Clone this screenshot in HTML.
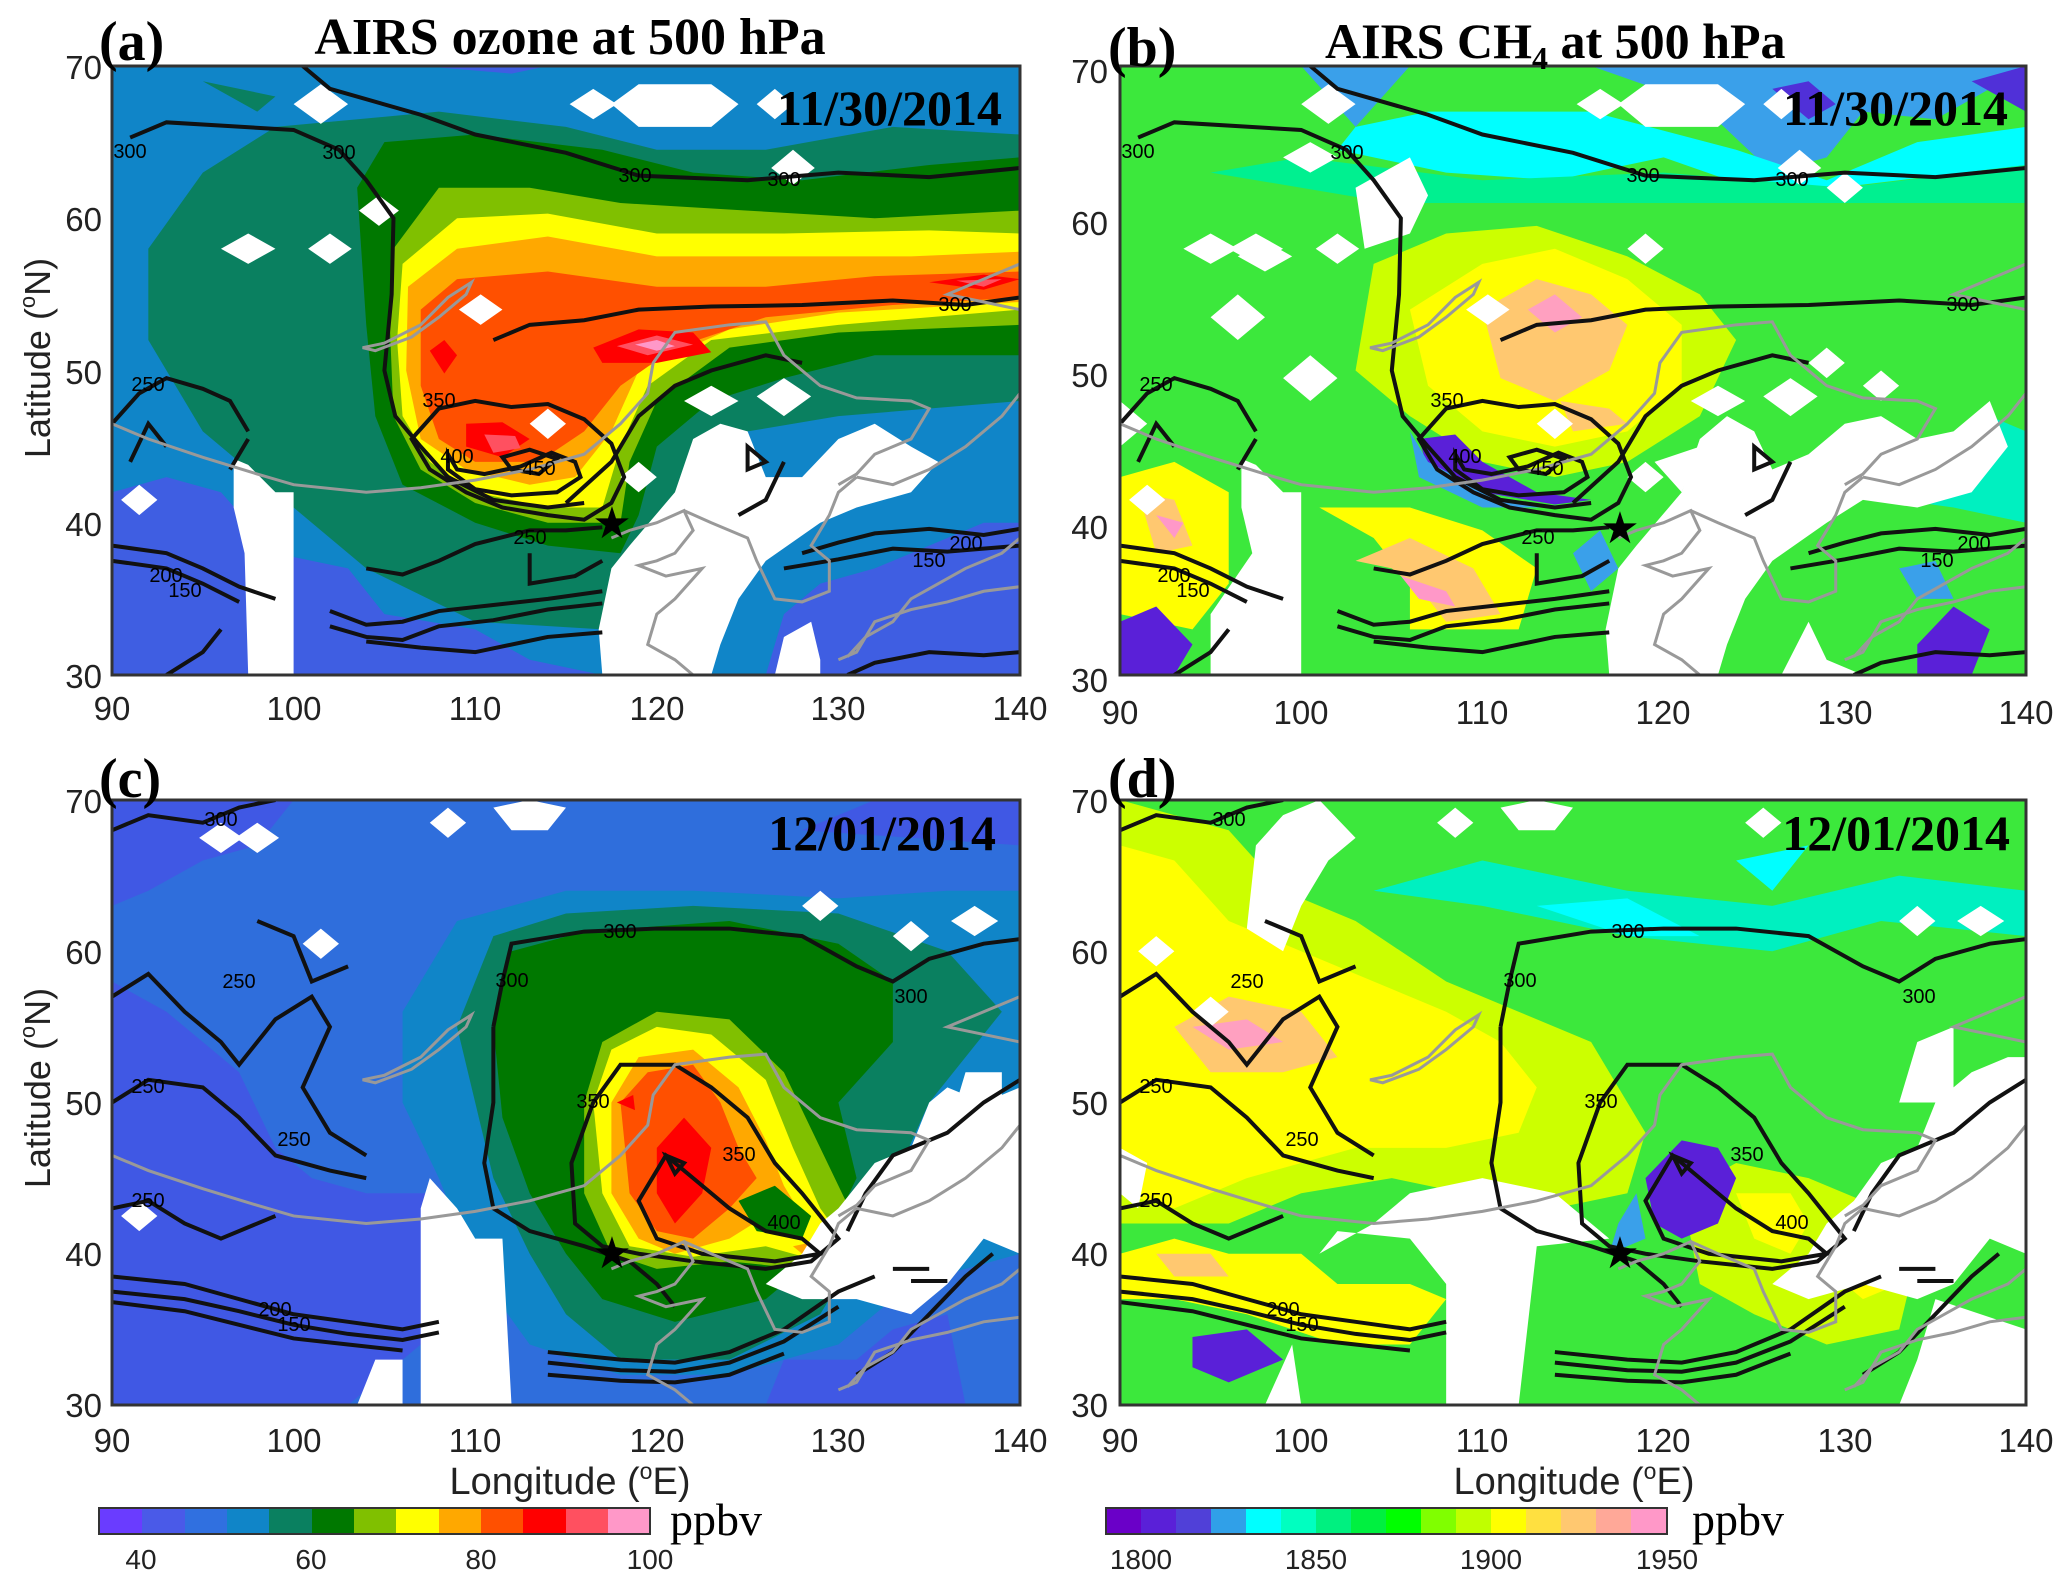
<!DOCTYPE html>
<html><head><meta charset="utf-8">
<style>
html,body{margin:0;padding:0;background:#fff;}
svg{display:block;}
.t{font-family:"Liberation Sans",sans-serif;font-size:33px;fill:#222;}
.s{font-family:"Liberation Serif",serif;font-weight:bold;fill:#000;}
.cl{font-family:"Liberation Sans",sans-serif;font-size:20px;fill:#000;}
</style></head>
<body>
<svg width="2067" height="1578" viewBox="0 0 2067 1578" xmlns="http://www.w3.org/2000/svg">
<defs>
<clipPath id="cp"><rect x="90" y="30" width="50" height="40"/></clipPath>
<g id="coast" fill="none" stroke="#999" stroke-width="3">
<path vector-effect="non-scaling-stroke" d="M90,46.5 L92,45.5 L95,44.3 L98,43.2 L100,42.5 L104,42 L107,42.3 L110,42.8 L113,43.5 L116,44.5 L118,46.5 L119.5,48.5 L119.8,50.5 L121,52.5 L124,53 L126,53.2 L127,51 L129,49 L131,48.2 L134,48 L135,47.5 L134,45.5 L132,44.5 L131,43.2 L130,42.5"/>
<path vector-effect="non-scaling-stroke" d="M103.8,51.5 L105,51.8 L107,53 L108.5,54.8 L109.8,55.8 L109.5,55 L108,53.5 L106.5,52.2 L104.5,51.3 Z"/>
<path vector-effect="non-scaling-stroke" d="M117.5,39 L118.5,39.5 L120,40 L121.5,40.8 L122,39.5 L121,38 L120,37.5 L119,37.2 L120.5,36.5 L122.5,37 L121,35 L120,34 L119.5,32 L121,31 L122,30"/>
<path vector-effect="non-scaling-stroke" d="M121.5,40.8 L123,40 L125,39 L125.5,37.5 L126.5,35 L128,34.8 L129.5,35.5 L129.5,37.5 L128.5,38.5 L129.5,40.5 L130,42 L131,43"/>
<path vector-effect="non-scaling-stroke" d="M130,31 L131,31.5 L132,33.5 L134,34.3 L136,34.8 L138,35.5 L140,35.8 M140,39 L139,38 L137,37 L135.5,36 L134,35 L133,33.5 L131.5,32.5 L130.5,31.2"/>
<path vector-effect="non-scaling-stroke" d="M131,43 L133,42.5 L135,43.5 L137,45 L139,47 L140,48.5 M140,54 L138,54.5 L136,55 L138,56 L140,57"/>
</g>
<g id="contA" fill="none" stroke="#111" stroke-width="4">
<path vector-effect="non-scaling-stroke" d="M91,65.3 L93,66.3 L100,65.8 L102.5,64.5 L104,62.5 L105.5,60 L105.4,55 L105,50 L105.6,47 L107,45 L108.5,43 L111,41.5 L114,41 L116,41.3"/>
<path vector-effect="non-scaling-stroke" d="M100.5,70 L102,68.5 L107,66.8 L110,65.5 L115,64.3 L119,62.8 L125,62.5 L130,63 L135,62.7 L140,63.3"/>
<path vector-effect="non-scaling-stroke" d="M111,52 L113,53 L116,53.3 L119,54 L123,54.2 L128,54.3 L133,54.6 L137,54.3 L140,54.8"/>
<path vector-effect="non-scaling-stroke" d="M90,46.5 L91.5,48.5 L93,49.5 L95,48.8 L96.5,48 L97.5,46 M93,45 L92,46.5 L91,44 M96.5,43.5 L97.5,45.5"/>
<path vector-effect="non-scaling-stroke" d="M106.5,45.5 L108,47.5 L110,48 L112,47.6 L114,47.8 L116,46.8 L117.5,45.2 L118.2,43 L117.5,41.3 L116,40.2 L114,40.5 L111.5,41 L109.5,42 L107.5,43.5 Z"/>
<path vector-effect="non-scaling-stroke" d="M108.5,44.5 L109,43.5 L110.5,43.2 L112.5,43.7 L114.2,44.6 L115.5,44 L115.8,43 L114.5,42 L112,41.8 L110,42.2 L108.5,43.5 Z"/>
<path vector-effect="non-scaling-stroke" d="M111.5,44.3 L113,44.8 L114.5,44.2 L113.5,43.2 L112,43.5 Z"/>
<path vector-effect="non-scaling-stroke" d="M104,37 L106,36.6 L108,37.5 L110,38.6 L113,39.5 L115,39.5 L117,39.7 M113,38 L113,36 L115.5,36.5 L117,37.5"/>
<path vector-effect="non-scaling-stroke" d="M115,41.3 L117.5,44 L119,47 L121,49 L123,50 L126,51 L128,50.5 M127,44 L126,41.5 L124.5,40.5"/>
<path vector-effect="non-scaling-stroke" d="M90,38.5 L93,38 L95,37 L97,35.8 L99,35 M102,34.2 L104,33.3 L106,33.5 L108,34.2 L111,34.6 L114,35 L117,35.5"/>
<path vector-effect="non-scaling-stroke" d="M90,37.5 L93,37 L95,36 L97,34.8 M102,33.2 L104,32.5 L106,32.3 L108,33.2 L111,33.6 L114,34.3 L117,34.7"/>
<path vector-effect="non-scaling-stroke" d="M104,32.2 L107,31.8 L110,31.5 L114,32.5 L117,32.8"/>
<path vector-effect="non-scaling-stroke" d="M128,38 L130,38.7 L132,39.3 L135,39.6 L138,39.2 L140,39.6 M127,37 L130,37.6 L133,38.3 L136,38.1 L140,38.5"/>
<path vector-effect="non-scaling-stroke" d="M93,30 L95,31.5 L96,33 M130.5,30 L132,30.8 L135,31.5 L138,31.3 L140,31.5"/>
<path vector-effect="non-scaling-stroke" d="M125,45 L126,44 L125,43.5 Z"/>
</g>
<g id="contC" fill="none" stroke="#111" stroke-width="4">
<path vector-effect="non-scaling-stroke" d="M90,68 L92,69 L95,68.5 L97,69.5 L99,70"/>
<path vector-effect="non-scaling-stroke" d="M111,55 L111.5,58 L112,60.5 L116,61.3 L120,61.5 L124,61.5 L128,61 L131,59 L133,58 L135,59.5 L138,60.5 L140,60.8"/>
<path vector-effect="non-scaling-stroke" d="M111,55 L111,50 L110.5,46 L111,43 L113,41.5 L116,40.5 L118.5,39.5 L120,38 L121,36.5"/>
<path vector-effect="non-scaling-stroke" d="M115.5,42 L115.3,46 L116.5,50 L118,52.5 L121,52.5 L123,51 L125,49 L126.5,46 L128,44 L130,41 L128.5,39.5 L126,39 L122,39.5 L119,40 L117,40.5 Z"/>
<path vector-effect="non-scaling-stroke" d="M119,43.5 L120.5,46.5 L122,45 L124,43 L126,41.5 L128,41 L129,40 L126.5,39.5 L122.5,40 L120,41 Z"/>
<path vector-effect="non-scaling-stroke" d="M90,57 L92,58.5 L94,56 L96,54 L97,52.5 L99,55.5 L101,57 L102,55 L100.5,51 L102,48 L104,46.5 M90,50 L92,51.5 L95,51 L97,49 L99,46.5 L102,45.5 L104,45 M90,43 L92,43.5 L94,42 L96,41 L99,42.5"/>
<path vector-effect="non-scaling-stroke" d="M98,62 L100,61 L101,58 L103,59"/>
<path vector-effect="non-scaling-stroke" d="M90,38.5 L94,38 L97,37 L100,36 L103,35.5 L106,35 L108,35.5 M90,37.5 L94,37 L97,36.2 L100,35.3 L103,34.7 L106,34.3 L108,34.8 M90,36.8 L94,36.2 L97,35.3 L100,34.4 L103,34 L106,33.6"/>
<path vector-effect="non-scaling-stroke" d="M114,33.5 L118,33 L121,32.8 L124,33.5 L127,35 L130,37.5 L132,38.5 M114,32.8 L118,32.3 L121,32.2 L124,32.8 L127,34.2 L130,36.5 M114,32 L118,31.6 L121,31.5 L124,32 L127,33.4"/>
<path vector-effect="non-scaling-stroke" d="M131,32 L133,33.5 L135,36 L137,38.5 L138.5,40 M133,39 L135,39 M134,38.2 L136,38.2"/>
<path vector-effect="non-scaling-stroke" d="M130.5,41.5 L131.5,44 L133,46.5 L136,48 L138,50 L140,51.5"/>
<path vector-effect="non-scaling-stroke" d="M120.5,46.5 L121.5,46 L121,45.3 Z"/>
</g>
<g id="diamA" fill="#fff">
<path d="M101.5,68.8 L103,67.5 L101.5,66.2 L100,67.5Z M97.5,59 L99,58 L97.5,57 L96,58Z M102,59 L103.2,58 L102,57 L100.8,58Z M104.7,61.5 L105.8,60.5 L104.7,59.5 L103.6,60.5Z M110.3,55 L111.5,54 L110.3,53 L109.1,54Z M116.5,68.5 L117.8,67.5 L116.5,66.5 L115.2,67.5Z M119,68.8 L123,68.8 L124.5,67.5 L123,66 L119,66 L117.5,67.5Z M126.5,68.5 L127.5,67.5 L126.5,66.5 L125.5,67.5Z M127.5,64.5 L128.7,63.3 L127.5,62.2 L126.3,63.3Z M119,44 L120,43 L119,42 L118,43Z M114,47.5 L115,46.5 L114,45.5 L113,46.5Z M123,49 L124.5,48 L123,47 L121.5,48Z M127,49.5 L128.5,48.3 L127,47 L125.5,48.3Z M91.5,42.5 L92.5,41.5 L91.5,40.5 L90.5,41.5Z"/>
</g>
</defs>

<!-- ===== Panel (a) ===== -->
<g transform="translate(112,66) scale(18.16,-15.225) translate(-90,-70)" clip-path="url(#cp)">
<rect x="90" y="30" width="50" height="40" fill="#1085c8"/>
<path fill="#3f5ee2" d="M90,42 L93,43 L96,42 L99,38 L103,37 L105,34 L110,33 L113,31 L117,30 L90,30Z"/>
<path fill="#3f5ee2" d="M126,30 L127,34 L129,36 L132,37 L135,38.5 L138,40 L140,40 L140,30Z"/>
<path fill="#3f5ee2" d="M107,70 L112,69.5 L114,70Z"/>
<path fill="#0a8060" d="M92,58 L95,63 L99,66 L108,67 L115,66 L120,64.5 L126,64.5 L133,66 L140,65.5 L140,48 L130,47 L125,46 L122,40 L121,35 L117,33 L110,33.5 L104,37 L99,42 L95,46 L92,52Z"/>
<path fill="#0a8060" d="M95,69 L99,68 L98,67 Z"/>
<path fill="#007800" d="M103.5,62 L105,65 L110,65.5 L117,64.5 L122,63 L128,62.5 L135,63.5 L140,64 L140,51 L132,51 L127,49.5 L123,48 L120,45 L119,40.5 L118,38 L114,38.5 L110,40 L106,42.5 L104.5,47 L104,53Z"/>
<path fill="#80c000" d="M105.5,58 L108,62 L113,62 L118,61 L125,60.5 L132,60 L140,60.5 L140,53 L130,52.5 L124,51.5 L120,48 L118.5,44 L118,40 L114,40 L110,41.3 L107,43.5 L105.5,47 L105.3,53Z"/>
<path fill="#ffff00" d="M106,57 L109,60 L114,60.3 L120,59 L127,59 L135,59.2 L140,59 L140,54 L130,53 L123,52 L119.5,49 L118,45 L117,41 L114,41 L110,42 L107.5,44 L106,47 L105.7,52Z"/>
<path fill="#ffa800" d="M106.3,55.5 L109,58 L114,58.8 L120,57.5 L127,57.5 L134,57.5 L140,57.8 L140,54.5 L130,53.8 L124,52.7 L119,50 L117.5,46 L115.5,43 L113,42.5 L109.5,43.5 L107,45.5 L106.2,50Z"/>
<path fill="#ff5000" d="M107,54 L109,56 L114,56.5 L120,55.5 L126,55.5 L132,56.2 L140,56.5 L140,54.8 L133,54.3 L126,53.5 L121,51.5 L118,49 L116,46 L113.5,44 L110,44 L108,45.5 L107,49Z"/>
<path fill="#ff0000" d="M107.5,51.3 L108.3,52 L109,51 L108.3,49.8Z M109.5,46.5 L111.5,46.6 L113,45.5 L111.5,44.3 L109.5,45Z M116.5,51.5 L119,52.7 L122,52.5 L123,51.2 L120,50.5 L117,50.5Z M135,55.8 L138,56.3 L140,56 L138,55.3Z"/>
<path fill="#ff5060" d="M110.5,45.8 L112.2,45.7 L112.5,44.9 L111,44.6Z M117.8,51.6 L120,52.3 L122,51.7 L119.5,51Z M136.5,55.9 L139,56 L138,55.5Z"/>
<path fill="#ff98c8" d="M118.8,51.7 L120,52 L121,51.6 L120,51.3Z"/>
<path fill="#fff" d="M96.7,44.2 L97.5,43.8 L99,42 L100,42 L100,30 L97.5,30 L97.3,38 L96.7,41Z"/>
<path fill="#fff" d="M117,30 L116.8,33 L117.5,37 L118.5,38.5 L121,42 L122,45.5 L123.5,46.5 L125,46 L126,43 L128,43 L130,45.5 L132,46.5 L134,45 L135.5,44 L134,42 L131,41 L129,40 L126,37.5 L124.5,35 L123.5,32 L123,30Z"/>
<path fill="#fff" d="M126.5,30 L127,32.5 L128.5,33.5 L129,31 L129,30Z"/>
<use href="#diamA"/>
<use href="#contA"/>
<use href="#coast"/>
</g>
<rect x="112" y="66" width="908" height="609" fill="none" stroke="#333" stroke-width="3"/>

<!-- ===== Panel (b) ===== -->
<g transform="translate(1120,66) scale(18.12,-15.225) translate(-90,-70)" clip-path="url(#cp)">
<rect x="90" y="30" width="50" height="40" fill="#3ce83c"/>
<path fill="#3aa0ea" d="M103,66 L106,70 L116,70 L122,67.5 L126,63 L129,64 L131,67 L135,66.5 L138,68.5 L140,67 L140,70 L100,70Z"/>
<path fill="#00ffff" d="M102,64.5 L108,63 L114,62.5 L120,64 L126,61.5 L133,62.5 L140,63.5 L140,66 L134,65 L129,62.5 L124,64.5 L116,67 L107,67 L103,66Z"/>
<path fill="#00f090" d="M95,63 L105,61 L113,61 L122,61 L130,61 L140,61 L140,63.5 L130,62 L120,63 L110,62.5 L100,64Z"/>
<path fill="#5030d8" d="M126,68.5 L128,66.5 L129.5,67.5 L128,69Z M137,69 L140,67 L140,70Z"/>
<path fill="#ccff00" d="M104,57 L108,59 L113,59.5 L118,57.5 L122,55 L124,52 L122,47 L118,44 L114,43 L110,44 L106,47 L103,50Z"/>
<path fill="#ffff00" d="M106,54 L110,57 L114,58 L118,56 L121,53 L121,49 L118,46 L114,45 L110,46 L107,49Z"/>
<path fill="#ffc870" d="M110,54 L113,56 L116,55 L118,53 L117,50 L114,48 L111,49.5Z M114.3,48 L117,47.5 L118,46.5 L115,46Z"/>
<path fill="#ffa0c0" d="M112.5,54 L114,55 L115.5,53.5 L114,52.5Z"/>
<path fill="#5a20d8" d="M106.5,45.5 L108.5,45.8 L110,44 L113,42 L116,41.5 L114,41.2 L110,42 L107,43.5Z"/>
<path fill="#3aa0ea" d="M106,46 L107,44 L111,41.5 L115,41 L110,41 L106.5,43Z"/>
<path fill="#ffff00" d="M90,43 L93,44 L96,42 L96,36 L94,33 L90,34Z"/>
<path fill="#ffc870" d="M91,42 L93,41.5 L94,38.5 L92,38Z"/>
<path fill="#ff98c8" d="M92,40.5 L93.5,40 L93,39 Z"/>
<path fill="#ffff00" d="M101,41 L104,39 L106,36 L106,33 L112,33 L113,37 L110,39.5 L106,41Z"/>
<path fill="#ffc870" d="M103,37.5 L105,37 L107,35 L108,33.5 L111,34 L109.5,37 L106,39Z"/>
<path fill="#ff98c8" d="M105.5,36.5 L108,35.5 L108.5,34.5 L106.5,35Z"/>
<path fill="#5a20d8" d="M90,33.5 L92,34.5 L94,32 L93,30 L90,30Z M134,32 L136,34.5 L138,33 L137,30 L134,30Z"/>
<path fill="#3aa0ea" d="M115,38 L116.5,39.5 L117.5,37 L116,35.5Z M133,37 L135,37.5 L136,35 L134,35Z"/>
<path fill="#00f0c0" d="M130,42 L134,45 L138,47 L140,46 L140,40 L136,41Z"/>
<path fill="#fff" d="M96.7,44.2 L97.5,43.8 L99,42 L100,42 L100,30 L95,30 L95,34 L97.3,38 L96.7,41Z"/>
<path fill="#fff" d="M117,30 L116.8,33 L117.5,37 L118.5,38.5 L121,42 L122,45.5 L123.5,47 L125,46 L126,43.5 L128,44.5 L130,46.5 L132,47 L134,45.5 L136,46 L138,48 L139,45 L137,42 L134,41 L131,41.5 L129,40 L126,37.5 L124.5,35 L123.5,32 L123,30Z"/>
<path fill="#fff" d="M119.5,44 L121,42 L122,45 Z M128,33.5 L129,31 L131,30 L126.5,30Z M90,48 L91.5,46.5 L90,45Z M96.5,55 L98,53.5 L96.5,52 L95,53.5Z M100.5,51 L102,49.5 L100.5,48 L99,49.5Z M95,59 L96.5,58 L95,57 L93.5,58Z M98,58.5 L99.5,57.5 L98,56.5 L96.5,57.5Z M103,62 L106,64 L107,61.5 L106,59 L103.5,58 Z M100.5,65 L102,64 L100.5,63 L99,64Z M119,59 L120,58 L119,57 L118,58Z M130,63 L131,62 L130,61 L129,62Z M132,50 L133,49 L132,48 L131,49Z M129,51.5 L130,50.5 L129,49.5 L128,50.5Z"/>
<use href="#diamA"/>
<use href="#contA"/>
<use href="#coast"/>
</g>
<rect x="1120" y="66" width="906" height="609" fill="none" stroke="#333" stroke-width="3"/>

<!-- ===== Panel (c) ===== -->
<g transform="translate(112,800) scale(18.16,-15.125) translate(-90,-70)" clip-path="url(#cp)">
<rect x="90" y="30" width="50" height="40" fill="#2f6edc"/>
<path fill="#4058e4" d="M90,70 L100,70 L98,67 L95,66 L92,64 L90,63Z M90,58 L93,56 L97,52 L99,47 L101,45 L104,44 L108,44 L110,40 L108,35 L103,30 L90,30Z"/>
<path fill="#4058e4" d="M126,30 L127,33 L131,33 L133,35 L136,36 L137,30Z M128,68 L132,70 L140,70 L140,67 Z"/>
<path fill="#1085c8" d="M106,56 L109,62 L115,64 L122,64 L130,63.5 L136,64 L140,64 L140,40 L134,38 L130,34 L124,32 L118,32 L113,34 L110,39 L108,45 L106,50Z"/>
<path fill="#0a8060" d="M109,55 L111,61 L115,62.5 L122,63 L130,62.5 L136,60 L139,56 L135,50 L132,42 L129,36 L124,33 L118,33 L115,36 L113,40 L111,45 L110,50Z"/>
<path fill="#007800" d="M111,55 L112,60 L116,61.3 L124,62 L130,60.5 L133,58 L133,54 L130,50 L131,45 L129,40 L126,37 L121,35.5 L117,37 L115,40 L113,44 L111.5,49Z"/>
<path fill="#80c000" d="M116,50 L117,54 L120,56 L124,55.5 L127,52 L129,47 L131,42 L131,39.5 L128,39 L124,39.5 L120,39 L117.5,40 L116,44Z"/>
<path fill="#ffff00" d="M116.5,50 L117.5,53.5 L120,55 L123,54.5 L126,51.5 L127.5,47 L129,43 L130.5,40.5 L129,39.5 L126,40.5 L122,39.8 L118.5,40.5 L117,44Z"/>
<path fill="#ffa800" d="M117.5,50 L119,53 L122,53.5 L124.5,51 L126,47.5 L127,44.5 L128,42.5 L126,42.5 L124,41 L121,40 L119,41 L117.5,44Z"/>
<path fill="#ff5000" d="M118,50 L119.5,52 L122,52.5 L123.5,50 L124.5,47 L125.5,45 L124,43 L122,41 L120,41.5 L118.5,44Z"/>
<path fill="#ff0000" d="M120,47 L121.5,49 L123,47 L122.5,44 L121,42 L120,44Z M117.8,50 L118.7,50.5 L118.8,49.5Z"/>
<path fill="#007800" d="M124.5,43.5 L126.5,44.5 L128.5,42.5 L128,41 L125.5,41.5Z"/>
<path fill="#ffa800" d="M127.5,40.5 L129.5,41 L130.5,40 L128.5,39.5Z"/>
<path fill="#fff" d="M107.5,45 L109,43 L110,41 L111.5,41 L112,30 L107,30 L107,43Z"/>
<path fill="#fff" d="M104.5,33 L106,33 L106,30 L103.5,30Z"/>
<path fill="#fff" d="M126,38 L128,40 L129,42 L130,43 L132,46 L134,47 L135,50 L136,51 L138,50 L140,51 L140,40 L138,41 L136,38 L134,36 L131,37 L128,37Z"/>
<path fill="#fff" d="M136,48 L139,48 L139,52 L137,52Z M137.5,63 L138.8,62 L137.5,61 L136.2,62Z M134,62 L135,61 L134,60 L133,61Z M129,64 L130,63 L129,62 L128,63Z M96,68.5 L97.2,67.5 L96,66.5 L94.8,67.5Z M98,68.5 L99.2,67.5 L98,66.5 L96.8,67.5Z M101.5,61.5 L102.5,60.5 L101.5,59.5 L100.5,60.5Z M108.5,69.5 L109.5,68.5 L108.5,67.5 L107.5,68.5Z M111,69.5 L113,70 L115,69.5 L114,68 L112,68Z M91.5,43.5 L92.5,42.5 L91.5,41.5 L90.5,42.5Z"/>
<use href="#contC"/>
<use href="#coast"/>
</g>
<rect x="112" y="800" width="908" height="605" fill="none" stroke="#333" stroke-width="3"/>

<!-- ===== Panel (d) ===== -->
<g transform="translate(1120,800) scale(18.12,-15.125) translate(-90,-70)" clip-path="url(#cp)">
<rect x="90" y="30" width="50" height="40" fill="#3ce83c"/>
<path fill="#00f0c0" d="M104,64 L110,66 L118,64 L126,63 L133,65 L140,64 L140,61 L132,62 L126,60 L118,61 L110,63Z"/>
<path fill="#00ffff" d="M113,63 L118,63.5 L122,61 L118,61 Z M124,66 L128,67 L126,64Z"/>
<path fill="#ccff00" d="M90,70 L96,68 L99,64 L103,62 L108,58 L112,56 L116,54 L119,48 L118,44 L114,43 L109,44 L105,45 L100,44 L96,42 L90,42Z"/>
<path fill="#ffff00" d="M90,67 L93,66 L96,62 L100,60 L104,58 L108,56 L111,54 L113,51 L112,48 L108,47 L103,47 L100,46 L97,45 L93,43 L90,44Z"/>
<path fill="#ffc870" d="M93,55 L96,57 L100,56 L102,53 L99,52 L95,52Z"/>
<path fill="#ffa0c0" d="M94,55 L97,55.5 L99,54 L96,53.5Z"/>
<path fill="#ffff00" d="M90,40 L93,41 L96,40 L100,40 L102,38 L106,38 L108,37 L106,34 L102,34 L97,36 L93,37 L90,37Z"/>
<path fill="#ffc870" d="M92,40 L95,40 L96,38.5 L93,38.5Z"/>
<path fill="#ccff00" d="M121,44 L124,46 L128,45 L132,43 L134,40 L133,35 L129,34 L125,36 L122,38Z"/>
<path fill="#ffff00" d="M124,44 L127,44 L128,42 L127,40 L125,41Z M129,39 L131,40 L133,38 L131,37Z"/>
<path fill="#5a20d8" d="M119,45 L121,47.5 L123,47 L124,45 L123,42 L121,41 L119.5,42Z M94,34.5 L97,35 L99,33 L96,31.5 L94,32.5Z"/>
<path fill="#3aa0ea" d="M118.5,44 L119,41 L117,40 L117.5,42Z"/>
<path fill="#fff" d="M97,61.5 L99,60 L100,63 L101.5,66 L103,67.5 L101,70 L99,69 L97.5,67 Z M95,57 L96,56 L95,55 L94,56Z M92,61 L93,60 L92,59 L91,60Z M90,47 L91.5,46 L91,43 L90,44Z"/>
<path fill="#fff" d="M101,40 L104,42 L106,44 L110,45 L114,44 L116,42 L117,41 L113,40.5 L112,30 L108,30 L108,38 L106,41 L102,41.5Z"/>
<path fill="#fff" d="M98,30 L99.5,34 L100,30Z M133,30 L140,30 L140,35 L135,37 L134,33Z"/>
<path fill="#fff" d="M126,38 L128,40 L129,42 L130.5,43.5 L132,46 L134,47 L135,50 L137,52 L139,53 L140,53 L140,40 L138,41 L136,38 L134,37 L131,38 L128,37Z"/>
<path fill="#fff" d="M133,50 L134,54 L136,55 L136,50Z M137.5,63 L138.8,62 L137.5,61 L136.2,62Z M134,63 L135,62 L134,61 L133,62Z M108.5,69.5 L109.5,68.5 L108.5,67.5 L107.5,68.5Z M111,69.5 L113,70 L115,69.5 L114,68 L112,68Z M125.5,69.5 L126.5,68.5 L125.5,67.5 L124.5,68.5Z"/>
<use href="#contC"/>
<use href="#coast"/>
</g>
<rect x="1120" y="800" width="906" height="605" fill="none" stroke="#333" stroke-width="3"/>

<!-- stars -->
<text x="612" y="538" font-size="44" text-anchor="middle" font-family="DejaVu Sans,sans-serif">★</text>
<text x="1620" y="543" font-size="44" text-anchor="middle" font-family="DejaVu Sans,sans-serif">★</text>
<text x="612" y="1268" font-size="44" text-anchor="middle" font-family="DejaVu Sans,sans-serif">★</text>
<text x="1620" y="1268" font-size="44" text-anchor="middle" font-family="DejaVu Sans,sans-serif">★</text>

<!-- contour labels a -->
<g class="cl" text-anchor="middle">
<text x="130" y="158">300</text><text x="339" y="159">300</text><text x="635" y="182">300</text><text x="784" y="186">300</text><text x="955" y="311">300</text>
<text x="439" y="407">350</text><text x="457" y="463">400</text><text x="539" y="475">450</text><text x="148" y="391">250</text><text x="530" y="544">250</text>
<text x="166" y="582">200</text><text x="185" y="597">150</text><text x="966" y="550">200</text><text x="929" y="567">150</text>
</g>
<!-- contour labels b -->
<g class="cl" text-anchor="middle">
<text x="1138" y="158">300</text><text x="1347" y="159">300</text><text x="1643" y="182">300</text><text x="1792" y="186">300</text><text x="1963" y="311">300</text>
<text x="1447" y="407">350</text><text x="1465" y="463">400</text><text x="1547" y="475">450</text><text x="1156" y="391">250</text><text x="1538" y="544">250</text>
<text x="1174" y="582">200</text><text x="1193" y="597">150</text><text x="1974" y="550">200</text><text x="1937" y="567">150</text>
</g>
<!-- contour labels c -->
<g class="cl" text-anchor="middle">
<text x="221" y="826">300</text><text x="512" y="987">300</text><text x="620" y="938">300</text><text x="911" y="1003">300</text>
<text x="593" y="1108">350</text><text x="739" y="1161">350</text><text x="784" y="1229">400</text>
<text x="148" y="1093">250</text><text x="239" y="988">250</text><text x="294" y="1146">250</text><text x="148" y="1207">250</text>
<text x="275" y="1316">200</text><text x="294" y="1331">150</text>
</g>
<!-- contour labels d -->
<g class="cl" text-anchor="middle">
<text x="1229" y="826">300</text><text x="1520" y="987">300</text><text x="1628" y="938">300</text><text x="1919" y="1003">300</text>
<text x="1601" y="1108">350</text><text x="1747" y="1161">350</text><text x="1792" y="1229">400</text>
<text x="1156" y="1093">250</text><text x="1247" y="988">250</text><text x="1302" y="1146">250</text><text x="1156" y="1207">250</text>
<text x="1283" y="1316">200</text><text x="1302" y="1331">150</text>
</g>

<!-- panel letters and titles -->
<text class="s" x="99" y="60" font-size="56">(a)</text>
<text class="s" x="570" y="54" font-size="52" text-anchor="middle">AIRS ozone at 500 hPa</text>
<text class="s" x="1108" y="66" font-size="56">(b)</text>
<text class="s" x="1325" y="58" font-size="50">AIRS CH<tspan font-size="32" dy="11">4</tspan><tspan dy="-11"> at 500 hPa</tspan></text>
<text class="s" x="1002" y="125" font-size="50" text-anchor="end">11/30/2014</text>
<text class="s" x="2008" y="125" font-size="50" text-anchor="end">11/30/2014</text>
<text class="s" x="99" y="797" font-size="56">(c)</text>
<text class="s" x="1108" y="797" font-size="56">(d)</text>
<text class="s" x="996" y="850" font-size="50" text-anchor="end">12/01/2014</text>
<text class="s" x="2010" y="850" font-size="50" text-anchor="end">12/01/2014</text>

<!-- axis tick labels -->
<g class="t" text-anchor="end">
<text x="102" y="79">70</text><text x="102" y="231">60</text><text x="102" y="384">50</text><text x="102" y="536">40</text><text x="102" y="688">30</text>
<text x="1108" y="83">70</text><text x="1108" y="235">60</text><text x="1108" y="387">50</text><text x="1108" y="539">40</text><text x="1108" y="692">30</text>
<text x="102" y="813">70</text><text x="102" y="964">60</text><text x="102" y="1115">50</text><text x="102" y="1266">40</text><text x="102" y="1417">30</text>
<text x="1108" y="813">70</text><text x="1108" y="964">60</text><text x="1108" y="1115">50</text><text x="1108" y="1266">40</text><text x="1108" y="1417">30</text>
</g>
<g class="t" text-anchor="middle">
<text x="112" y="720">90</text><text x="294" y="720">100</text><text x="475" y="720">110</text><text x="657" y="720">120</text><text x="838" y="720">130</text><text x="1020" y="720">140</text>
<text x="1120" y="724">90</text><text x="1301" y="724">100</text><text x="1482" y="724">110</text><text x="1663" y="724">120</text><text x="1845" y="724">130</text><text x="2026" y="724">140</text>
<text x="112" y="1452">90</text><text x="294" y="1452">100</text><text x="475" y="1452">110</text><text x="657" y="1452">120</text><text x="838" y="1452">130</text><text x="1020" y="1452">140</text>
<text x="1120" y="1452">90</text><text x="1301" y="1452">100</text><text x="1482" y="1452">110</text><text x="1663" y="1452">120</text><text x="1845" y="1452">130</text><text x="2026" y="1452">140</text>
<text x="570" y="1494" font-size="38">Longitude (<tspan font-size="23" dy="-15">o</tspan><tspan dy="15">E)</tspan></text>
<text x="1574" y="1494" font-size="38">Longitude (<tspan font-size="23" dy="-15">o</tspan><tspan dy="15">E)</tspan></text>
<text transform="translate(50,358) rotate(-90)" font-size="36">Latitude (<tspan font-size="22" dy="-15">o</tspan><tspan dy="15">N)</tspan></text>
<text transform="translate(50,1088) rotate(-90)" font-size="36">Latitude (<tspan font-size="22" dy="-15">o</tspan><tspan dy="15">N)</tspan></text>
</g>

<!-- colorbar ozone -->
<g>
<rect x="99" y="1508" width="43" height="26" fill="#6a3cff"/><rect x="142" y="1508" width="43" height="26" fill="#4a5ae8"/><rect x="185" y="1508" width="42" height="26" fill="#3070e0"/><rect x="227" y="1508" width="42" height="26" fill="#1085c8"/><rect x="269" y="1508" width="43" height="26" fill="#0a8060"/><rect x="312" y="1508" width="42" height="26" fill="#007800"/><rect x="354" y="1508" width="42" height="26" fill="#80c000"/><rect x="396" y="1508" width="43" height="26" fill="#ffff00"/><rect x="439" y="1508" width="42" height="26" fill="#ffa800"/><rect x="481" y="1508" width="42" height="26" fill="#ff5000"/><rect x="523" y="1508" width="43" height="26" fill="#ff0000"/><rect x="566" y="1508" width="42" height="26" fill="#ff5060"/><rect x="608" y="1508" width="42" height="26" fill="#ff98c8"/>
<rect x="99" y="1508" width="551" height="26" fill="none" stroke="#333" stroke-width="2"/>
</g>
<text class="s" x="670" y="1535" font-size="46" style="font-weight:normal">ppbv</text>
<g class="t" text-anchor="middle">
<text x="141" y="1569" font-size="28">40</text><text x="311" y="1569" font-size="28">60</text><text x="481" y="1569" font-size="28">80</text><text x="650" y="1569" font-size="28">100</text>
</g>
<!-- colorbar CH4 -->
<g>
<rect x="1106" y="1508" width="35" height="26" fill="#6a00c8"/><rect x="1141" y="1508" width="35" height="26" fill="#5a20d8"/><rect x="1176" y="1508" width="35" height="26" fill="#5040d8"/><rect x="1211" y="1508" width="35" height="26" fill="#30a0e8"/><rect x="1246" y="1508" width="35" height="26" fill="#00ffff"/><rect x="1281" y="1508" width="35" height="26" fill="#00ffc0"/><rect x="1316" y="1508" width="35" height="26" fill="#00f080"/><rect x="1351" y="1508" width="35" height="26" fill="#00f040"/><rect x="1386" y="1508" width="35" height="26" fill="#00ff00"/><rect x="1421" y="1508" width="35" height="26" fill="#80ff00"/><rect x="1456" y="1508" width="35" height="26" fill="#c0ff00"/><rect x="1491" y="1508" width="35" height="26" fill="#ffff00"/><rect x="1526" y="1508" width="35" height="26" fill="#ffe040"/><rect x="1561" y="1508" width="35" height="26" fill="#ffc870"/><rect x="1596" y="1508" width="35" height="26" fill="#ffa898"/><rect x="1631" y="1508" width="36" height="26" fill="#ff98c8"/>
<rect x="1106" y="1508" width="561" height="26" fill="none" stroke="#333" stroke-width="2"/>
</g>
<text class="s" x="1692" y="1535" font-size="46" style="font-weight:normal">ppbv</text>
<g class="t" text-anchor="middle">
<text x="1141" y="1569" font-size="28">1800</text><text x="1316" y="1569" font-size="28">1850</text><text x="1491" y="1569" font-size="28">1900</text><text x="1667" y="1569" font-size="28">1950</text>
</g>
</svg>
</body></html>
